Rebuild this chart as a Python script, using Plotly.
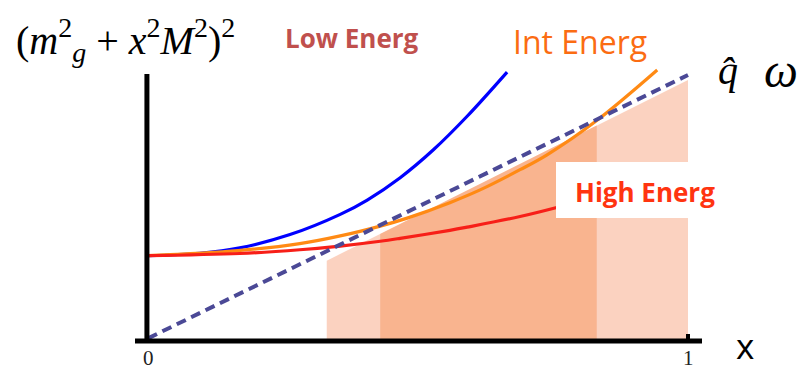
import plotly.graph_objects as go

# ---- data (x in [0,1], y in arbitrary units) ----
blue_x = [0.0, 0.096, 0.170, 0.263, 0.356, 0.406, 0.467, 0.528, 0.591, 0.665]
blue_y = [0.321, 0.330, 0.350, 0.400, 0.476, 0.530, 0.614, 0.718, 0.845, 1.011]

orange_x = [0.0, 0.167, 0.281, 0.356, 0.430, 0.480, 0.559, 0.615, 0.689, 0.739, 0.831, 0.943]
orange_y = [0.321, 0.340, 0.366, 0.395, 0.432, 0.462, 0.520, 0.568, 0.644, 0.700, 0.829, 1.019]

red_x = [0.0, 0.170, 0.281, 0.356, 0.430, 0.467, 0.559, 0.591, 0.689, 0.757]
red_y = [0.321, 0.329, 0.343, 0.357, 0.375, 0.386, 0.416, 0.428, 0.468, 0.502]

dash_x = [0.0, 1.0]
dash_y = [0.01, 1.0]

light_x = [0.331, 1.0]          # light band edges
light_top = [0.302, 0.981]
dark_x = [0.430, 0.831]         # dark band edges
dark_top = [0.402, 0.810]

tick_vals = [0, 1]
tick_text = ["0", "1"]

# pixel mapping helpers for layout (plot area = whole figure)
W, H = 805, 372
X0PX, X1PX = 148, 688
Y0PX, YSC = 341, 266
xr = [(0 - X0PX) / (X1PX - X0PX), (W - X0PX) / (X1PX - X0PX)]
yr = [(Y0PX - H) / YSC, (Y0PX - 0) / YSC]

fig = go.Figure()

# shaded bands
fig.add_trace(go.Scatter(
    x=[light_x[0], light_x[0], light_x[1], light_x[1]],
    y=[0, light_top[0], light_top[1], 0],
    fill="toself", fillcolor="#fbd2c0", line=dict(width=0),
    mode="lines", hoverinfo="skip", showlegend=False))
fig.add_trace(go.Scatter(
    x=[dark_x[0], dark_x[0], dark_x[1], dark_x[1]],
    y=[0, dark_top[0], dark_top[1], 0],
    fill="toself", fillcolor="#f9b48f", line=dict(width=0),
    mode="lines", hoverinfo="skip", showlegend=False))

# curves
fig.add_trace(go.Scatter(x=blue_x, y=blue_y, mode="lines",
                         line=dict(color="#0000ff", width=3.2, shape="spline", smoothing=1.0),
                         showlegend=False))
fig.add_trace(go.Scatter(x=orange_x, y=orange_y, mode="lines",
                         line=dict(color="#ff8a14", width=3.2, shape="spline", smoothing=1.0),
                         showlegend=False))
fig.add_trace(go.Scatter(x=red_x, y=red_y, mode="lines",
                         line=dict(color="#f71f18", width=3.2, shape="spline", smoothing=1.0),
                         showlegend=False))
fig.add_trace(go.Scatter(x=dash_x, y=dash_y, mode="lines",
                         line=dict(color="#4b4996", width=4, dash="10px,6px"),
                         showlegend=False))

shapes = [
    # white box behind "High Energ"
    dict(type="rect", xref="paper", yref="paper", layer="above",
         x0=556 / W, x1=728 / W, y0=1 - 218 / H, y1=1 - 162 / H,
         fillcolor="white", line=dict(width=0)),
    # y axis
    dict(type="line", xref="x", yref="paper", layer="above",
         x0=-0.002, x1=-0.002, y0=1 - 343 / H, y1=1 - 74 / H,
         line=dict(color="black", width=5)),
    # x axis
    dict(type="line", xref="paper", yref="y", layer="above",
         x0=135 / W, x1=702 / W, y0=0, y1=0,
         line=dict(color="black", width=5)),
    # tick at 1
    dict(type="line", xref="x", yref="paper", layer="above",
         x0=1, x1=1, y0=1 - 341 / H, y1=1 - 334 / H,
         line=dict(color="black", width=4)),
]

ann = []
for v, t in zip(tick_vals, tick_text):
    ann.append(dict(x=v, y=0, xref="x", yref="paper", text=t,
                    showarrow=False, xanchor="center", yanchor="bottom",
                    font=dict(family="Liberation Serif", size=21, color="#222")))
ann += [
    dict(x=745 / W, y=1 - 371 / H, xref="paper", yref="paper", text="x",
         showarrow=False, xanchor="center", yanchor="bottom",
         font=dict(family="Open Sans", size=35, color="black")),
    dict(x=14 / W, y=1 - 40 / H, xref="paper", yref="paper",
         text="(<i>m</i><sup>2</sup><sub><i>g</i></sub> + <i>x</i><sup>2</sup><i>M</i><sup>2</sup>)<sup>2</sup>",
         showarrow=False, xanchor="left", yanchor="middle",
         font=dict(family="Liberation Serif", size=40, color="black")),
    dict(x=283 / W, y=1 - 38 / H, xref="paper", yref="paper", text="<b>Low Energ</b>",
         showarrow=False, xanchor="left", yanchor="middle",
         font=dict(family="Open Sans", size=26, color="#c0504d")),
    dict(x=511 / W, y=1 - 41 / H, xref="paper", yref="paper", text="Int Energ",
         showarrow=False, xanchor="left", yanchor="middle",
         font=dict(family="Open Sans", size=32, color="#fb6c12")),
    dict(x=573 / W, y=1 - 192 / H, xref="paper", yref="paper", text="<b>High Energ</b>",
         showarrow=False, xanchor="left", yanchor="middle",
         font=dict(family="Open Sans", size=26, color="#ff3410")),
    dict(x=716 / W, y=1 - 70 / H, xref="paper", yref="paper", text="<i>q\u0302</i>",
         showarrow=False, xanchor="left", yanchor="middle",
         font=dict(family="Liberation Serif", size=40, color="black")),
    dict(x=762 / W, y=1 - 70 / H, xref="paper", yref="paper", text="<i>\u03c9</i>",
         showarrow=False, xanchor="left", yanchor="middle",
         font=dict(family="Liberation Serif", size=48, color="black")),
]

fig.update_layout(
    width=W, height=H, margin=dict(l=0, r=0, t=0, b=0),
    paper_bgcolor="white", plot_bgcolor="white",
    xaxis=dict(range=xr, visible=False, fixedrange=True),
    yaxis=dict(range=yr, visible=False, fixedrange=True),
    shapes=shapes, annotations=ann, showlegend=False,
)

fig.write_html("out.html", config={"displayModeBar": False},
               post_script="document.body.style.margin='0';document.body.style.overflow='hidden';")
